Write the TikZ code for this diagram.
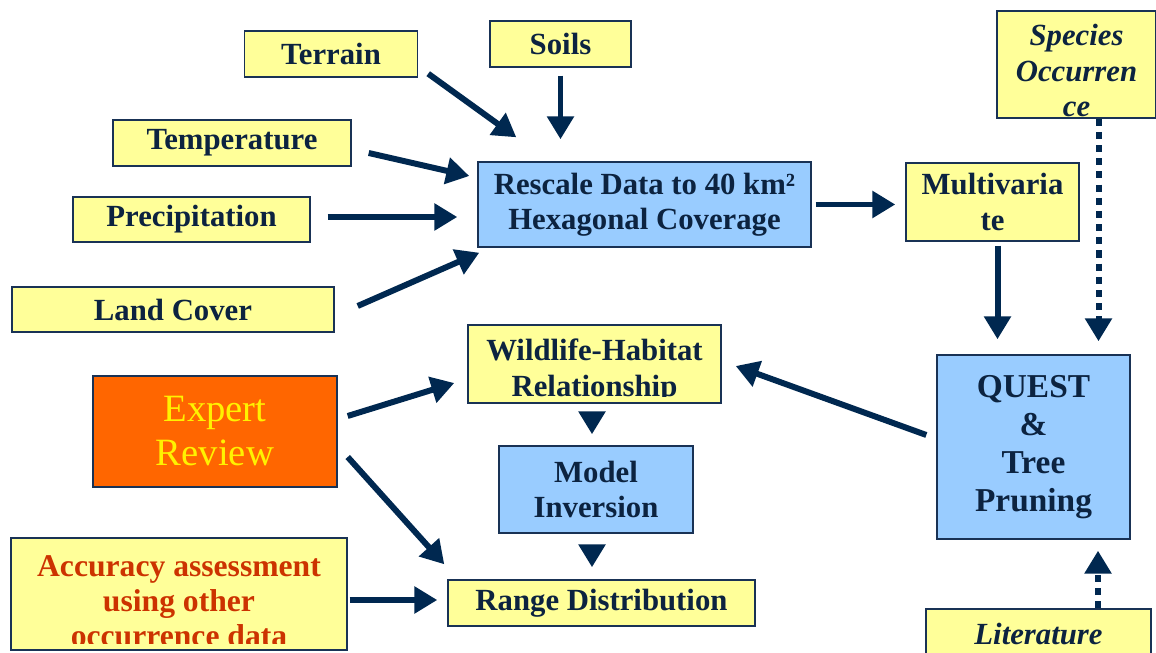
\documentclass[tikz,border=0pt]{standalone}
\usepackage{fontspec}
\setmainfont{Liberation Serif}
\usepackage{tikz}
\usetikzlibrary{
  calc,
  positioning,
  arrows.meta}
\definecolor{ylw}{HTML}{FFFF99}
\definecolor{blu}{HTML}{99CCFF}
\definecolor{org}{HTML}{FF6600}
\definecolor{arrcol}{RGB}{0,40,80}
\definecolor{txtcol}{RGB}{12,35,64}
\definecolor{boxline}{RGB}{25,50,85}
\definecolor{redtxt}{HTML}{CC3300}

\begin{document}
\begin{tikzpicture}[
  >={Triangle[length=0.46cm,width=0.52cm]},
  box/.style={draw=boxline,line width=0.8pt,inner sep=0pt,align=center,text=txtcol,
    font=\bfseries\fontsize{17.5}{20}\selectfont},
  ybox/.style={box,fill=ylw},
  bbox/.style={box,fill=blu},
  arr/.style={->,draw=arrcol,line width=3.4pt},
  dotarr/.style={arr,dash pattern=on 4pt off 3.5pt}
]%
  \useasboundingbox (0,0) rectangle (23.12,-13.06);

  % inputs
  \node[ybox,minimum width=3.46cm,minimum height=0.92cm] (ter) at (6.62,-1.08) {Terrain};
  \node[ybox,minimum width=2.82cm,minimum height=0.92cm] (sl)  at (11.21,-0.88) {Soils};
  \node[ybox,minimum width=4.76cm,minimum height=0.92cm] (tmp) at (4.64,-2.86) {Temperature};
  \node[ybox,minimum width=4.74cm,minimum height=0.90cm] (pre) at (3.83,-4.39) {Precipitation};
  \node[ybox,minimum width=6.44cm,minimum height=0.90cm] (lc)  at (3.46,-6.19) {Land Cover};

  \node[bbox,minimum width=6.66cm,minimum height=1.70cm] (rs) at (12.89,-4.09)
    {Rescale Data to 40 km²\\Hexagonal Coverage};
  \node[ybox,minimum width=3.46cm,minimum height=1.56cm] (mv) at (19.85,-4.04) {Multivaria\\te};

  \node[ybox,minimum width=3.18cm,minimum height=2.14cm,
    path picture={\clip ([yshift=0.03cm]path picture bounding box.south west) rectangle (path picture bounding box.north east);
      \node[text=txtcol,align=center,font=\bfseries\itshape\fontsize{17.5}{20}\selectfont]
        at ([yshift=-0.12cm]path picture bounding box.center) {Species\\Occurren\\ce};}] (sp) at (21.53,-1.29) {};

  \node[bbox,minimum width=3.86cm,minimum height=3.68cm,
    font=\bfseries\fontsize{19}{21.5}\selectfont] (qu) at (20.67,-8.94) {QUEST\\\&\\Tree\\Pruning};

  \node[ybox,minimum width=4.50cm,minimum height=1.00cm,
    font=\bfseries\itshape\fontsize{17.5}{20}\selectfont] (lit) at (20.77,-12.68) {Literature};

  % middle column
  \node[ybox,minimum width=5.06cm,minimum height=1.56cm,
    path picture={\clip ([yshift=0.12cm]path picture bounding box.south west) rectangle (path picture bounding box.north east);
      \node[text=txtcol,align=center,font=\bfseries\fontsize{17.5}{20}\selectfont]
        at ([yshift=-0.14cm]path picture bounding box.center) {Wildlife-Habitat\\Relationship};}] (wh) at (11.89,-7.28) {};
  \node[bbox,minimum width=3.88cm,minimum height=1.74cm] (mi) at (11.92,-9.79) {Model\\Inversion};
  \node[ybox,minimum width=6.14cm,minimum height=0.92cm] (rd) at (12.03,-12.06) {Range Distribution};

  \node[box,fill=org,text=yellow,minimum width=4.88cm,minimum height=2.22cm,
    font=\fontsize{22}{25}\selectfont] (ex) at (4.30,-8.63) {Expert\\Review};

  \node[ybox,minimum width=6.72cm,minimum height=2.24cm,
    path picture={\clip ([yshift=0.14cm]path picture bounding box.south west) rectangle (path picture bounding box.north east);
      \node[text=redtxt,align=center,font=\bfseries\fontsize{18}{20}\selectfont]
        at ([yshift=-0.14cm]path picture bounding box.center) {Accuracy assessment\\using other\\occurrence data};}] (acc) at (3.58,-11.88) {};

  % connectors
  \draw[arr] ($(ter.south east)+(0.2,0.08)$) -- ($(rs.north west)+(0.78,0.48)$);
  \draw[arr,shorten <=0.16cm,shorten >=0.44cm] (sl.south) -- (sl.south |- rs.north);
  \draw[arr] ($(tmp.east)+(0.34,-0.2)$) -- ($(rs.west)+(-0.16,0.57)$);
  \draw[arr,shorten <=0.34cm,shorten >=0.4cm] ([yshift=0.05cm]pre.east) -- ([yshift=0.05cm]pre.east -| rs.west);
  \draw[arr] ($(lc.east)+(0.46,0.07)$) -- ($(rs.south west)+(0.04,-0.1)$);

  \draw[arr,shorten <=0.08cm,shorten >=0.2cm] (rs.east) -- (rs.east -| mv.west);
  \draw[arr,shorten <=0.08cm,shorten >=0.3cm] ([xshift=0.1cm]mv.south) -- ([xshift=0.1cm]mv.south |- qu.north);
  \draw[dotarr,shorten >=0.26cm] ([xshift=0.44cm]sp.south) -- ([xshift=0.44cm]sp.south |- qu.north);
  \draw[dotarr,shorten >=0.22cm] ([xshift=1.19cm]lit.north) -- ([xshift=1.19cm]lit.north |- qu.south);

  \draw[arr] ($(qu.west)+(-0.2,0.24)$) -- ($(wh.east)+(0.28,-0.04)$);
  \draw[arr] ($(ex.east)+(0.2,0.31)$) -- ($(wh.west)+(-0.26,-0.38)$);
  \draw[arr] ($(ex.east)+(0.2,-0.51)$) -- ($(rd.north west)+(-0.06,0.3)$);
  \draw[arr,shorten <=0.04cm,shorten >=0.2cm] ([yshift=-0.12cm]acc.east) -- ([yshift=-0.12cm]acc.east -| rd.west);

  \draw[arr,shorten <=0.2cm,shorten >=0.22cm] ([xshift=-0.05cm]wh.south) -- ([xshift=-0.05cm]wh.south |- mi.north);
  \draw[arr,shorten <=0.24cm,shorten >=0.24cm] ([xshift=-0.08cm]mi.south) -- ([xshift=-0.08cm]mi.south |- rd.north);

\end{tikzpicture}
\end{document}
